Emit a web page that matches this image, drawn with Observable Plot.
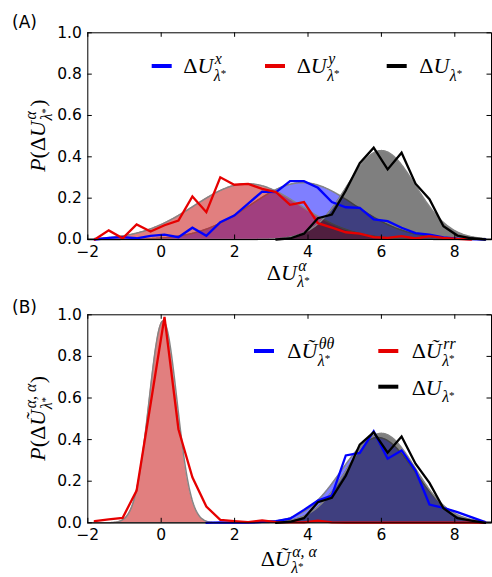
<!DOCTYPE html>
<html><head><meta charset="utf-8">
<script src="https://cdn.jsdelivr.net/npm/d3@7"></script>
<script src="https://cdn.jsdelivr.net/npm/@observablehq/plot@0.6"></script>
<style>
body{margin:0;background:#fff;}
#wrap{position:relative;width:492px;height:577px;overflow:hidden;}
#wrap svg{position:absolute;left:0;overflow:visible;}
</style></head><body><div id="wrap"></div>
<script>
// ---- data ----
const binsX = [-1.81,-1.43,-1.05,-0.67,-0.29,0.09,0.47,0.85,1.23,1.61,1.99,2.37,2.75,3.13,3.51,3.89,4.27,4.65,5.03,5.41,5.79,6.17,6.55,6.93,7.31,7.69,8.07,8.45,8.83];
const xTicks = [-2,0,2,4,6,8];
const yTicks = [0,0.2,0.4,0.6,0.8,1.0];

// Panel A histograms
const aBlue  = [0,0.008,0.011,0.006,0.018,0.024,0.011,0.057,0.018,0.084,0.116,0.173,0.232,0.229,0.282,0.282,0.25,0.181,0.156,0.153,0.097,0.089,0.057,0.031,0.024,0.01,0.004,0.002,0];
const aRed   = [0,0.044,0.006,0.073,0.039,0.069,0.092,0.208,0.132,0.301,0.265,0.269,0.245,0.229,0.168,0.181,0.079,0.057,0.035,0.028,0.011,0.008,0.016,0.005,0.016,0.008,0.003,0,null];
const aBlack = [null,null,null,null,null,null,null,null,null,null,null,null,null,0,0.005,0.028,0.103,0.121,0.237,0.369,0.444,0.339,0.42,0.27,0.195,0.064,0.019,0.006,0];
// Panel A Gaussian fits [amplitude, mean, sd]
const aFitBlue  = [0.275, 3.85, 1.42];
const aFitRed   = [0.27, 2.35, 1.45];
const aFitBlack = [0.43, 6.0, 0.93];

// Panel B histograms
const bBlue  = [null,null,null,null,null,null,null,null,0,0.002,0.001,0.001,0.004,0.008,0.02,0.062,0.107,0.131,0.324,0.336,0.44,0.308,0.348,0.251,0.088,0.072,0.051,0.027,0.003];
const bRed   = [0.008,0.016,0.024,0.155,0.57,0.99,0.45,0.219,0.078,0.014,0.008,0.003,0.012,0.003,0.002,0.002,0.01,0.002,0.001,0.001,0.001,0.001,0.001,0.001,0.001,0.001,0.001,0.001,0];
const bBlack = [null,null,null,null,null,null,null,null,null,null,null,null,null,0,0.005,0.022,0.099,0.12,0.226,0.376,0.435,0.337,0.415,0.284,0.192,0.07,0.022,0.01,0];
const bFitRed   = [0.97, 0.05, 0.38];
const bFitBlue  = [0.41, 5.9, 1.0];
const bFitBlack = [0.43, 6.0, 0.93];

const BLUE = "#0000ff", RED = "#e60000", BLACK = "#000000";
const FILL_RED = "#c40000";
const MATH_FONT = "Liberation Serif";
const W = 492, ML = 87.3, MR = 1;

function gaussPts([a, mu, s]) {
  const xs = d3.range(-2, 9.0001, 0.02);
  return xs.map(x => ({x, y: a * Math.exp(-((x - mu) ** 2) / (2 * s * s))}));
}
function series(ys) { return binsX.map((x, i) => ({x, y: ys[i]})); }

function panel({height, mt, mb, fits, lines, transparent}) {
  const ph = height - mt - mb, pw = W - ML - MR, tl = 4.5;
  const marks = [];
  for (const [p, fill] of fits) {
    const pts = gaussPts(p);
    marks.push(Plot.areaY(pts, {x: "x", y: "y", fill, fillOpacity: 0.5, curve: "linear"}));
    marks.push(Plot.lineY(pts, {x: "x", y: "y", stroke: "#858585", strokeWidth: 1.5}));
  }
  for (const [ys, stroke] of lines) {
    marks.push(Plot.line(series(ys), {x: "x", y: "y", stroke, strokeWidth: 2.3, strokeLinejoin: "miter", strokeMiterlimit: 4}));
  }
  marks.push(
    Plot.tickX(xTicks, {x: d => d, insetTop: ph - tl, stroke: "black"}),
    Plot.tickX(xTicks, {x: d => d, insetBottom: ph - tl, stroke: "black"}),
    Plot.tickY(yTicks, {y: d => d, insetRight: pw - tl, stroke: "black"}),
    Plot.tickY(yTicks, {y: d => d, insetLeft: pw - tl, stroke: "black"}),
    Plot.axisX(xTicks, {tickSize: 0, tickPadding: 6, fontSize: 15.5, tickFormat: d => d < 0 ? "\u2212" + Math.abs(d) : String(d)}),
    Plot.axisY(yTicks, {tickSize: 0, tickPadding: 6, fontSize: 15.5, tickFormat: d3.format(".1f")}),
    Plot.frame({stroke: "black", strokeWidth: 1})
  );
  return Plot.plot({
    width: W, height, marginTop: mt, marginBottom: mb, marginLeft: ML, marginRight: MR,
    x: {domain: [-2, 9], label: null},
    y: {domain: [0, 1], label: null},
    style: {fontFamily: "DejaVu Sans", fontSize: "15px", color: "black", background: transparent ? "transparent" : "white", overflow: "visible"},
    marks
  });
}

const wrap = document.getElementById("wrap");
const svgA = panel({height: 288, mt: 32.3, mb: 49, transparent: false,
  fits: [[aFitBlue, BLUE], [aFitRed, FILL_RED], [aFitBlack, BLACK]],
  lines: [[aBlue, BLUE], [aRed, RED], [aBlack, BLACK]]});
svgA.style.top = "0px";
wrap.appendChild(svgA);
const svgB = panel({height: 289, mt: 26.3, mb: 54.7, transparent: true,
  fits: [[bFitRed, FILL_RED], [bFitBlue, BLUE], [bFitBlack, BLACK]],
  lines: [[bBlue, BLUE], [bRed, RED], [bBlack, BLACK]]});
svgB.style.top = "288px";
wrap.appendChild(svgB);

// ---- math text helper ----
function addMath(svg, {x, y, fs, parts, anchor = "start", rotate = false}) {
  const g = d3.select(svg).append("g")
    .attr("transform", rotate ? `translate(${x},${y}) rotate(-90)` : `translate(${x},${y})`)
    .attr("font-family", MATH_FONT).attr("fill", "black").attr("text-anchor", "start");
  const inner = g.append("g");
  let cx = 0;
  for (const p of parts) {
    if (p.main) {
      const t = inner.append("text").attr("x", cx).attr("y", 0).attr("font-size", fs);
      for (const [s, it] of p.main) t.append("tspan").attr("font-style", it ? "italic" : "normal").text(s);
      cx += t.node().getComputedTextLength();
    } else {
      let w = 0;
      if (p.sup) {
        const t = inner.append("text").attr("x", cx + 1.5).attr("y", -0.42 * fs).attr("font-size", 0.72 * fs).attr("font-style", "italic").text(p.sup);
        w = Math.max(w, t.node().getComputedTextLength());
      }
      if (p.sub) {
        const t = inner.append("text").attr("x", cx + 0.5).attr("y", 0.33 * fs).attr("font-size", 0.72 * fs);
        t.append("tspan").attr("font-style", "italic").text("λ");
        t.append("tspan").attr("font-size", 0.5 * fs).attr("dy", -0.14 * fs).text("*");
        w = Math.max(w, t.node().getComputedTextLength());
      }
      cx += w + 2;
    }
  }
  if (anchor === "middle") inner.attr("transform", `translate(${-cx / 2},0)`);
}
function panelLabel(svg, text, x, y) {
  d3.select(svg).append("text").attr("x", x).attr("y", y).attr("font-family", "DejaVu Sans")
    .attr("text-anchor", "start").attr("font-size", 17).attr("fill", "black").text(text);
}
function swatch(svg, x, y, color) {
  d3.select(svg).append("rect").attr("x", x).attr("y", y - 2).attr("width", 20).attr("height", 4).attr("fill", color);
}
const DU = [["Δ", false], ["U", true]];
const DUt = [["Δ", false], ["Ũ", true]];
const FS = 22;

// Panel A texts
panelLabel(svgA, "(A)", 12, 28);
addMath(svgA, {x: 45, y: 135.6, fs: FS, rotate: true, anchor: "middle",
  parts: [{main: [["P", true], ["(", false], ["Δ", false], ["U", true]]}, {sup: "α", sub: true}, {main: [[")", false]]}]});
addMath(svgA, {x: 289, y: 280, fs: FS, anchor: "middle", parts: [{main: DU}, {sup: "α", sub: true}]});
swatch(svgA, 151.7, 66, BLUE);
addMath(svgA, {x: 183.3, y: 73.3, fs: FS, parts: [{main: DU}, {sup: "x", sub: true}]});
swatch(svgA, 265, 66, RED);
addMath(svgA, {x: 296.7, y: 73.3, fs: FS, parts: [{main: DU}, {sup: "y", sub: true}]});
swatch(svgA, 386.7, 66, BLACK);
addMath(svgA, {x: 419.3, y: 73.3, fs: FS, parts: [{main: DU}, {sub: true}]});

// Panel B texts
panelLabel(svgB, "(B)", 12, 25);
addMath(svgB, {x: 45, y: 130.3, fs: FS, rotate: true, anchor: "middle",
  parts: [{main: [["P", true], ["(", false], ["Δ", false], ["Ũ", true]]}, {sup: "α, α", sub: true}, {main: [[")", false]]}]});
addMath(svgB, {x: 289, y: 278, fs: FS, anchor: "middle", parts: [{main: DUt}, {sup: "α, α", sub: true}]});
swatch(svgB, 254, 63, BLUE);
addMath(svgB, {x: 287.3, y: 70.3, fs: FS, parts: [{main: DUt}, {sup: "θθ", sub: true}]});
swatch(svgB, 378.3, 63, RED);
addMath(svgB, {x: 411.7, y: 70.3, fs: FS, parts: [{main: DUt}, {sup: "rr", sub: true}]});
swatch(svgB, 378.3, 98.7, BLACK);
addMath(svgB, {x: 411.7, y: 107, fs: FS, parts: [{main: DU}, {sub: true}]});
</script></body></html>
